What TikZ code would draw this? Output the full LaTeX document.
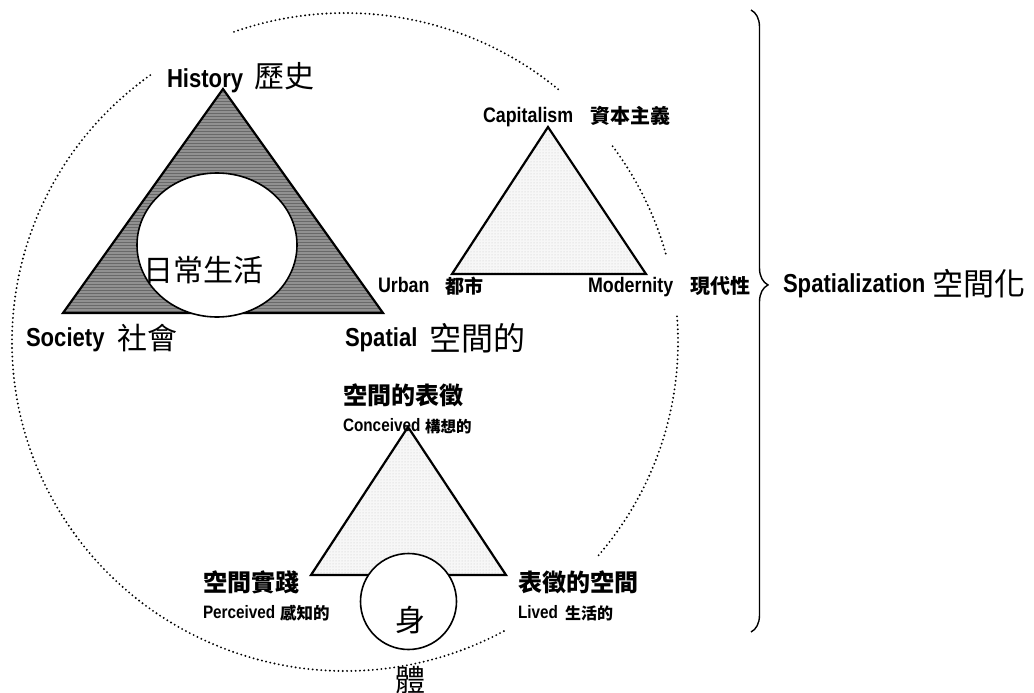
\documentclass[tikz,border=0pt]{standalone}
\usepackage{fontspec}
\usetikzlibrary{patterns,decorations.pathreplacing,calc}
\newfontfamily\en[FakeStretch=0.85]{Liberation Sans}
\newfontfamily\cjk{Noto Sans CJK TC}
\begin{document}
\begin{tikzpicture}[x=1pt,y=-1pt,
  lbl/.style={inner sep=0pt, outer sep=0pt, anchor=base west},
  enbig/.style={lbl, font=\en\bfseries\fontsize{26}{28}\selectfont},
  enmid/.style={lbl, font=\en\bfseries\fontsize{21}{24}\selectfont},
  ensm/.style={lbl, font=\en\bfseries\fontsize{18}{20}\selectfont},
  cjkbig/.style={lbl, font=\cjk\fontsize{30}{32}\selectfont},
  cjkmid/.style={lbl, font=\cjk\bfseries\fontsize{24}{26}\selectfont},
  cjksm/.style={lbl, font=\cjk\bfseries\fontsize{#1}{#1}\selectfont},
  dotline/.style={line width=2.1pt, dash pattern=on 0pt off 4.3pt, line cap=round},
  darktri/.style={line width=2.2pt, line join=miter,
     preaction={fill={rgb,255:red,145;green,145;blue,145}},
     preaction={pattern=horizontal lines, pattern color={rgb,255:red,105;green,105;blue,105}}},
  lighttri/.style={line width=2.2pt, line join=miter,
     preaction={fill=gray!6},
     preaction={pattern=dots, pattern color=gray!45}},
  whiteoval/.style={line width=1.6pt, fill=white}
]
\useasboundingbox (0,0) rectangle (1034,693);

% big dotted ellipse (broken where labels sit)
\coordinate (C) at (345,342);
\draw[dotline] ($(C)+(-50.2:333 and 329)$) arc[start angle=-50.2, end angle=-109.8, x radius=333, y radius=329];
\draw[dotline] ($(C)+(-125.8:333 and 329)$) arc[start angle=-125.8, end angle=-298.5, x radius=333, y radius=329];
\draw[dotline] ($(C)+(40.4:333 and 329)$) arc[start angle=40.4, end angle=-5, x radius=333, y radius=329];
\draw[dotline] ($(C)+(-15.6:333 and 329)$) arc[start angle=-15.6, end angle=-36.6, x radius=333, y radius=329];

% triangle 1: History / Society / Spatial
\coordinate (t1a) at (223,89);
\coordinate (t1l) at (63,313);
\coordinate (t1r) at (383,313);
\draw[darktri] (t1a) -- (t1r) -- (t1l) -- cycle;
\coordinate (E1) at (217,245);
\draw[whiteoval] (E1) ellipse [x radius=80, y radius=72];

% triangle 2: Capitalism / Urban / Modernity
\coordinate (t2a) at (548,127);
\coordinate (t2l) at (452,274);
\coordinate (t2r) at (646,274);
\draw[lighttri] (t2a) -- (t2r) -- (t2l) -- cycle;

% triangle 3: conceived / perceived / lived
\coordinate (t3a) at (408,427);
\coordinate (t3l) at (311,575);
\coordinate (t3r) at (506,575);
\draw[lighttri] (t3a) -- (t3r) -- (t3l) -- cycle;
\node[circle, draw, line width=1.6pt, fill=white, minimum size=96pt, inner sep=0pt] (bodyc) at (408.5,601.5) {};

% brace
\coordinate (bt) at (751,10);
\coordinate (bb) at (751,632);
\draw[line width=1.4pt, decorate, decoration={brace, amplitude=17pt, aspect=0.442}] (bt) -- (bb);

% labels
\node[enbig] (hisE) at (167,88) {History};
\node[cjkbig] (hisC) at (254,88) {歷史};
\node[enbig] (socE) at (26,346) {Society};
\node[cjkbig] (socC) at (117,349) {社會};
\node[enbig] (spaE) at (345,346) {Spatial};
\node[lbl, font=\cjk\fontsize{32}{34}\selectfont] (spaC) at (429,350) {空間的};
\node[cjkbig] (dailyC) at (143,281) {日常生活};

\node[enmid] (capE) at (483,122) {Capitalism};
\node[cjksm=20] (capC) at (590,123) {資本主義};
\node[enmid] (urbE) at (378,292) {Urban};
\node[cjksm=19] (urbC) at (445,293) {都市};
\node[enmid] (modE) at (588,292) {Modernity};
\node[cjksm=20] (modC) at (690,293) {現代性};

\node[enbig] (spzE) at (783,292) {Spatialization};
\node[lbl, font=\cjk\fontsize{31}{33}\selectfont] (spzC) at (932,295) {空間化};

\node[cjkmid] (rocC) at (343,404) {空間的表徵};
\node[ensm] (rocE) at (343,431) {Conceived};
\node[cjksm=15.5] (rocC2) at (425,432) {構想的};

\node[cjkmid] (spC) at (203,591) {空間實踐};
\node[ensm] (spE) at (203,618) {Perceived};
\node[cjksm=16.5] (spC2) at (280,619) {感知的};

\node[cjkmid] (rsC) at (518,591) {表徵的空間};
\node[ensm] (rsE) at (518,618) {Lived};
\node[cjksm=16] (rsC2) at (565,619) {生活的};

\node[cjkbig, anchor=base] (body1) at (410,631) {身};
\node[cjkbig, anchor=base] (body2) at (410,691) {體};
\end{tikzpicture}
\end{document}
